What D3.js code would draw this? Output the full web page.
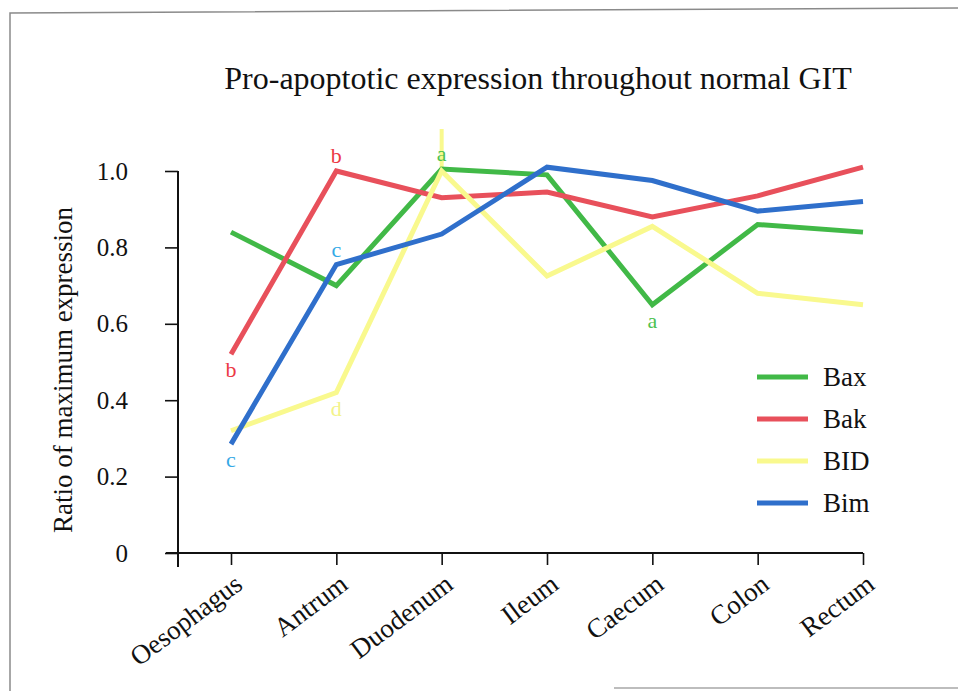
<!DOCTYPE html>
<html>
<head>
<meta charset="utf-8">
<script src="https://cdn.jsdelivr.net/npm/d3@7"></script>
<style>
  body { margin: 0; background: #fff; }
  svg { display: block; font-family: "Liberation Serif", "Times New Roman", "DejaVu Serif", serif; }
</style>
</head>
<body>
<svg id="chart" width="958" height="691"></svg>
<script>
var sites = ["Oesophagus", "Antrum", "Duodenum", "Ileum", "Caecum", "Colon", "Rectum"];
var yTicks = [0, 0.2, 0.4, 0.6, 0.8, 1.0];

var bax = [0.84, 0.70, 1.005, 0.99, 0.65, 0.86, 0.84];
var bak = [0.52, 1.00, 0.93, 0.945, 0.88, 0.935, 1.01];
var bid = [0.32, 0.42, 1.00, 0.725, 0.855, 0.68, 0.65];
var bim = [0.285, 0.755, 0.835, 1.01, 0.975, 0.895, 0.92];

var seriesNames = ["Bax", "Bak", "BID", "Bim"];
var seriesColors = ["#41b947", "#e8505b", "#f9f98e", "#2f6fcb"];

// significance letters: [series index, site, letter, placed above?]
var letters = [
	[1, "Oesophagus", "b", false],
	[1, "Antrum", "b", true],
	[3, "Oesophagus", "c", false],
	[3, "Antrum", "c", true],
	[0, "Duodenum", "a", true],
	[0, "Caecum", "a", false],
	[2, "Antrum", "d", false]
];
var letterColors = ["#4cc24f", "#ec3a45", "#f3f38a", "#35a9e6"];

var svg = d3.select("#chart");

var x = d3.scalePoint().domain(sites).range([231, 863]);
var y = d3.scaleLinear().domain([0, 1]).range([553, 171]);

// scanned page frame
svg.append("path")
	.attr("d", "M10,691 L10,13 L958,8")
	.attr("fill", "none")
	.attr("stroke", "#8a8a8a")
	.attr("stroke-width", 1.5);
svg.append("line")
	.attr("x1", 614).attr("x2", 958)
	.attr("y1", 688).attr("y2", 688)
	.attr("stroke", "#bdbdbd")
	.attr("stroke-width", 2);

svg.append("text")
	.attr("x", 538)
	.attr("y", 89)
	.attr("text-anchor", "middle")
	.attr("font-size", 32)
	.attr("fill", "#111")
	.text("Pro-apoptotic expression throughout normal GIT");

/* y axis */
var yAxis = svg.append("g")
	.attr("transform", "translate(178,0)")
	.call(d3.axisLeft(y).tickValues(yTicks).tickSize(13).tickPadding(37)
		.tickFormat(function(d) { return d === 0 ? "0" : d3.format(".1f")(d); }));
yAxis.attr("font-family", null);
yAxis.select(".domain").remove();
yAxis.append("line")
	.attr("y1", y(1)).attr("y2", 567)
	.attr("stroke", "#111").attr("stroke-width", 2);
yAxis.selectAll(".tick line").attr("stroke", "#111").attr("stroke-width", 1.6);
yAxis.selectAll(".tick text")
	.attr("font-size", 25)
	.attr("fill", "#111");

svg.append("text")
	.attr("transform", "translate(72,370) rotate(-90)")
	.attr("text-anchor", "middle")
	.attr("font-size", 27)
	.attr("fill", "#111")
	.text("Ratio of maximum expression");

/* x axis */
var xAxis = svg.append("g")
	.attr("transform", "translate(0," + y(0) + ")")
	.call(d3.axisBottom(x).tickSize(12).tickSizeOuter(0));
xAxis.attr("font-family", null);
xAxis.select(".domain").remove();
xAxis.append("line")
	.attr("x1", 166).attr("x2", x("Rectum"))
	.attr("stroke", "#111").attr("stroke-width", 2);
xAxis.selectAll(".tick line").attr("stroke", "#111").attr("stroke-width", 1.6);
xAxis.selectAll(".tick text")
	.attr("font-size", 27)
	.attr("fill", "#111")
	.attr("text-anchor", "end")
	.attr("transform", "translate(7,27) rotate(-37)")
	.attr("dy", "0.35em")
	.attr("y", 0);

/* lines */
var allSeries = [bax, bak, bid, bim];
var line = d3.line()
	.x(function(d, i) { return x(sites[i]); })
	.y(function(d) { return y(d); });

// BID upward spike at duodenum (as in the original)
svg.append("line")
	.attr("x1", x("Duodenum")).attr("x2", x("Duodenum"))
	.attr("y1", y(bid[2])).attr("y2", y(1.11))
	.attr("stroke", seriesColors[2]).attr("stroke-width", 4);

svg.selectAll(".series")
	.data(allSeries)
	.enter()
	.append("path")
	.attr("class", "series")
	.attr("d", line)
	.attr("fill", "none")
	.attr("stroke", function(d, i) { return seriesColors[i]; })
	.attr("stroke-width", 5)
	.attr("stroke-linejoin", "miter");

/* significance letters */
svg.selectAll(".letter")
	.data(letters)
	.enter()
	.append("text")
	.attr("class", "letter")
	.attr("x", function(d) { return x(d[1]); })
	.attr("y", function(d) {
		var v = allSeries[d[0]][sites.indexOf(d[1])];
		return d[3] ? y(v) - 8 : y(v) + 23;
	})
	.attr("text-anchor", "middle")
	.attr("font-size", 22)
	.attr("fill", function(d) { return letterColors[d[0]]; })
	.text(function(d) { return d[2]; });

/* legend */
var legend = svg.selectAll(".legend")
	.data(seriesNames)
	.enter()
	.append("g")
	.attr("class", "legend")
	.attr("transform", function(d, i) { return "translate(757," + (377 + i * 42) + ")"; });
legend.append("line")
	.attr("x1", 0).attr("x2", 51)
	.attr("stroke", function(d, i) { return seriesColors[i]; })
	.attr("stroke-width", 5);
legend.append("text")
	.attr("x", 66)
	.attr("y", 9)
	.attr("font-size", 27)
	.attr("fill", "#111")
	.text(function(d) { return d; });
</script>
</body>
</html>
